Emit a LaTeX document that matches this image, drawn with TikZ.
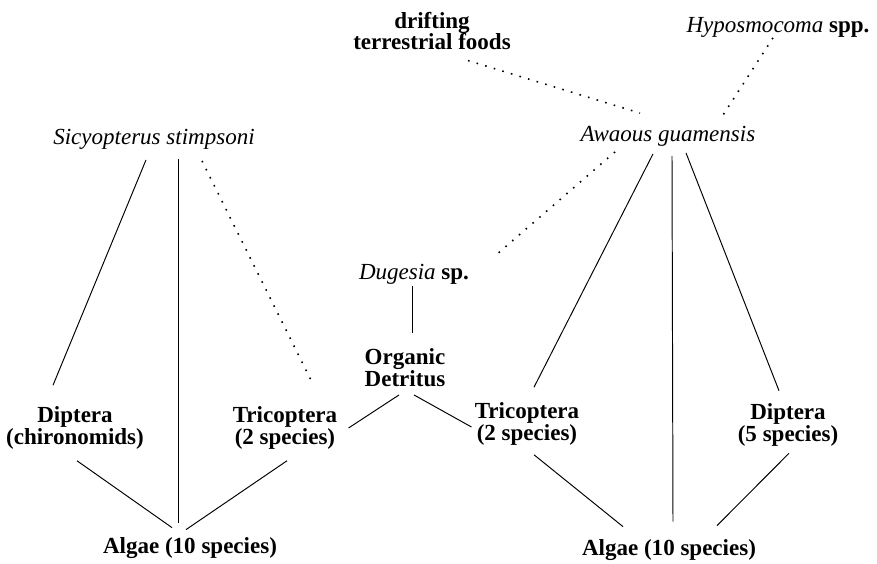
\documentclass[tikz,border=0pt]{standalone}
\usepackage{fontspec}
\setmainfont{Liberation Serif}
\usepackage{tikz}
\usetikzlibrary{positioning}
\newcommand{\taxon}[1]{{\mdseries\itshape #1}}

\begin{document}
\begin{tikzpicture}[
        food/.style={
            inner sep=0pt,
            align=center,
            font=\bfseries\fontsize{13.1}{12.5}\selectfont
        },
        link/.style={
            draw=black,
            line width=0.55pt
        },
        weak/.style={
            draw=black,
            line width=0.9pt,
            dash pattern=on 0.9pt off 4.2pt
        }
    ]
        \useasboundingbox (0, 0) rectangle (17.54, 11.28);

        % Left web (Sicyopterus)
        \node[food] (sicy) at (3.08, 8.49) {\taxon{Sicyopterus stimpsoni}};
        \node[food] (dipL) at (1.50, 2.72) {Diptera\\(chironomids)};
        \node[food] (tricL) at (5.70, 2.72) {Tricoptera\\(2 species)};
        \node[food] (algaeL) at (3.80, 0.31) {Algae (10 species)};

        % Right web (Awaous)
        \node[food] (drift) at (8.64, 10.66) {drifting\\terrestrial foods};
        \node[food] (hypo) at (15.56, 10.73) {\taxon{Hyposmocoma} spp.};
        \node[food] (awa) at (13.36, 8.55) {\taxon{Awaous guamensis}};
        \node[food] (dug) at (8.28, 5.79) {\taxon{Dugesia} sp.};
        \node[food] (org) at (8.10, 3.93) {Organic\\Detritus};
        \node[food] (tricR) at (10.54, 2.80) {Tricoptera\\(2 species)};
        \node[food] (dipR) at (15.76, 2.79) {Diptera\\(5 species)};
        \node[food] (algaeR) at (13.38, 0.27) {Algae (10 species)};

        % Links, left
        \draw[link] ([xshift=-0.16cm, yshift=-0.20cm]sicy.south) -- ([xshift=-0.44cm, yshift=0.42cm]dipL.north);
        \draw[link] ([xshift=0.48cm, yshift=-0.18cm]sicy.south) -- ([xshift=-0.24cm, yshift=0.30cm]algaeL.north);
        \draw[weak] ([xshift=0.96cm, yshift=-0.22cm]sicy.south) -- ([xshift=0.56cm, yshift=0.44cm]tricL.north);
        \draw[link] ([xshift=0.04cm, yshift=-0.22cm]dipL.south) -- ([xshift=-0.36cm, yshift=0.20cm]algaeL.north);
        \draw[link] ([xshift=0.04cm, yshift=-0.22cm]tricL.south) -- ([xshift=-0.08cm, yshift=0.16cm]algaeL.north);

        % Links, detritus
        \draw[link] ([xshift=-0.12cm, yshift=-0.16cm]org.south) -- ([xshift=0.22cm]tricL.east);
        \draw[link] ([xshift=0.18cm, yshift=-0.16cm]org.south) -- ([xshift=-0.06cm, yshift=-0.06cm]tricR.west);
        \draw[link] ([xshift=-0.04cm, yshift=-0.02cm]dug.south) -- ([xshift=0.14cm, yshift=0.30cm]org.north);

        % Links, right
        \draw[weak] ([xshift=-1.06cm, yshift=-0.10cm]awa.south) -- ([xshift=0.58cm, yshift=0.43cm]dug.east);
        \draw[weak] ([xshift=0.72cm, yshift=-0.20cm]drift.south) -- ([xshift=-0.56cm, yshift=0.26cm]awa.north);
        \draw[weak] ([xshift=-0.10cm]hypo.south) -- ([xshift=1.10cm, yshift=0.22cm]awa.north);
        \draw[link] ([xshift=-0.30cm, yshift=-0.14cm]awa.south) -- ([xshift=0.14cm, yshift=0.30cm]tricR.north);
        \draw[link] ([xshift=0.08cm, yshift=-0.18cm]awa.south) -- ([xshift=0.08cm, yshift=0.36cm]algaeR.north);
        \draw[link] ([xshift=0.36cm, yshift=-0.12cm]awa.south) -- ([xshift=-0.18cm, yshift=0.24cm]dipR.north);
        \draw[link] ([xshift=0.14cm, yshift=-0.18cm]tricR.south) -- ([xshift=-0.92cm, yshift=0.26cm]algaeR.north);
        \draw[link] ([xshift=0.02cm, yshift=-0.14cm]dipR.south) -- ([xshift=0.96cm, yshift=0.28cm]algaeR.north);

    \end{tikzpicture}
\end{document}
